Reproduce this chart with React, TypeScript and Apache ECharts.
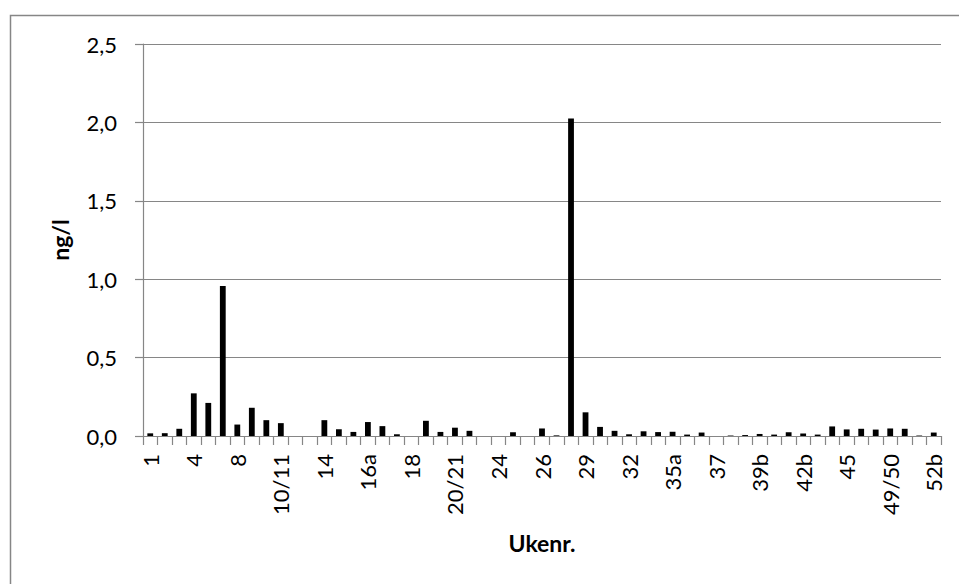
import React, { useEffect, useRef } from "react";
import * as echarts from "echarts";

const categories: string[] = [
  "1", "2", "3", "4", "5", "6/7", "8", "9a", "9b", "10/11",
  "12", "13", "14", "15a", "15b", "16a", "16b", "17", "18", "19a",
  "19b", "20/21", "22", "23", "24", "25a", "25b", "26", "27", "28",
  "29", "30", "31", "32", "33", "34", "35a", "35b", "36", "37",
  "38", "39a", "39b", "40/41", "42a", "42b", "43", "44", "45", "46",
  "47/48", "49/50", "51", "52a", "52b",
];

const values: number[] = [
  0.017, 0.018, 0.046, 0.272, 0.211, 0.956, 0.073, 0.18, 0.101, 0.082,
  0, 0, 0.101, 0.043, 0.026, 0.089, 0.063, 0.011, 0, 0.097,
  0.026, 0.053, 0.033, 0, 0, 0.024, 0, 0.048, 0.004, 2.025,
  0.151, 0.058, 0.033, 0.011, 0.03, 0.025, 0.027, 0.009, 0.022, 0,
  0.003, 0.006, 0.013, 0.009, 0.024, 0.016, 0.009, 0.061, 0.042, 0.046,
  0.041, 0.048, 0.046, 0.003, 0.022,
];

const yTicks = { min: 0, max: 2.5, interval: 0.5 };
const yTitle = "ng/l";
const xTitle = "Ukenr.";

export default function App() {
  const ref = useRef<HTMLDivElement>(null);
  useEffect(() => {
    document.body.style.margin = "0";
    if (!ref.current) return;
    const chart = echarts.init(ref.current, null, { renderer: "svg" });
    const gray = "#868686";
    const font = "Lato";
    chart.setOption({
      animation: false,
      backgroundColor: "#ffffff",
      textStyle: { fontFamily: font },
      graphic: [
        {
          type: "rect",
          shape: { x: 10.5, y: 15.5, width: 980, height: 620 },
          style: { fill: "none", stroke: gray, lineWidth: 1.5 },
          silent: true,
        },
      ],
      grid: { left: 143, right: 18, top: 44, bottom: 148, containLabel: false },
      xAxis: {
        type: "category",
        data: categories,
        name: xTitle,
        nameLocation: "middle",
        nameGap: 95,
        nameTextStyle: { fontFamily: font, fontWeight: "bold", fontSize: 23, color: "#000" },
        axisLine: { lineStyle: { color: gray, width: 1.2 } },
        axisTick: { show: true, interval: 0, length: 9, alignWithLabel: false, lineStyle: { color: gray, width: 1.2 } },
        axisLabel: {
          interval: 2,
          rotate: 90,
          margin: 18,
          fontFamily: font,
          fontSize: 22,
          color: "#000",
        },
        splitLine: { show: false },
      },
      yAxis: {
        type: "value",
        min: yTicks.min,
        max: yTicks.max,
        interval: yTicks.interval,
        name: yTitle,
        nameLocation: "middle",
        nameRotate: 90,
        nameGap: 72,
        nameTextStyle: { fontFamily: font, fontWeight: "bold", fontSize: 23, color: "#000" },
        axisLine: { show: true, lineStyle: { color: gray, width: 1.2 } },
        axisTick: { show: true, length: 8, lineStyle: { color: gray, width: 1.2 } },
        axisLabel: {
          margin: 26,
          fontFamily: font,
          fontSize: 22,
          color: "#000",
          formatter: (v: number) => v.toFixed(1).replace(".", ","),
        },
        splitLine: { show: true, lineStyle: { color: gray, width: 1.2 } },
      },
      series: [
        {
          type: "bar",
          data: values,
          barWidth: "40%",
          itemStyle: { color: "#000000" },
        },
      ],
    });
    return () => chart.dispose();
  }, []);
  return <div ref={ref} style={{ width: 959, height: 584 }} />;
}
